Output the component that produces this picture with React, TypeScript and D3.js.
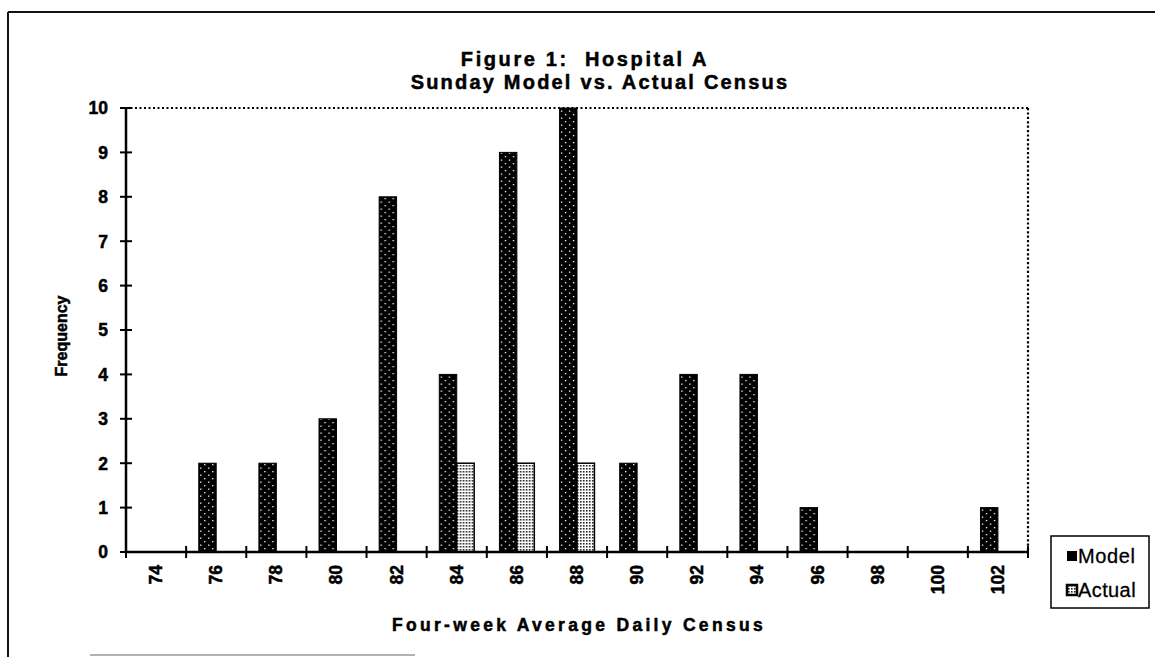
import React from 'react';
import * as d3 from 'd3';

const censusBins = ['74', '76', '78', '80', '82', '84', '86', '88', '90', '92', '94', '96', '98', '100', '102'];
const modelFreq = [0, 2, 2, 3, 8, 4, 9, 10, 2, 4, 4, 1, 0, 0, 1];
const actualFreq = [0, 0, 0, 0, 0, 2, 2, 2, 0, 0, 0, 0, 0, 0, 0];
const seriesNames = ['Model', 'Actual'];
const yTicks = [0, 1, 2, 3, 4, 5, 6, 7, 8, 9, 10];

const W = 1155;
const H = 657;
const plot = { left: 126, right: 1028, top: 108, bottom: 552 };
const font = '"Liberation Sans", Arial, Helvetica, sans-serif';
// scanned text looks heavy, so thicken the glyphs a bit
const heavy = { stroke: '#000', strokeWidth: 0.5 };

export default function App() {
  const x = d3.scaleBand<string>().domain(censusBins).range([plot.left, plot.right]).padding(0);
  const bw = x.bandwidth();
  const inner = d3.scaleBand<string>().domain(seriesNames).range([bw * 0.21, bw * 0.79]).padding(0);
  const y = d3.scaleLinear().domain([0, 10]).range([plot.bottom, plot.top]);

  const boundaries = censusBins.map(c => x(c) as number).concat([plot.right]);
  const rows = censusBins.map((c, i) => ({ bin: c, Model: modelFreq[i], Actual: actualFreq[i] }));

  return (
    <svg width={W} height={H} style={{ position: 'absolute', left: 0, top: 0, background: '#fff' }} fontFamily={font}>
      <defs>
        <pattern id="modelPat" width="8" height="7" patternUnits="userSpaceOnUse">
          <rect width="8" height="7" fill="#000" />
          <rect x="2" y="2" width="1.3" height="1.3" fill="#fff" />
          <rect x="6" y="5.5" width="1.3" height="1.3" fill="#fff" />
        </pattern>
        <pattern id="actualPat" width="3" height="3" patternUnits="userSpaceOnUse">
          <rect width="3" height="3" fill="#fff" />
          <rect x="0" y="0" width="1.6" height="1.6" fill="#222" />
        </pattern>
      </defs>

      {/* outer frame */}
      <line x1={8} y1={12} x2={W} y2={12} stroke="#111" strokeWidth={2} />
      <line x1={8} y1={12} x2={8} y2={H} stroke="#111" strokeWidth={2} />
      <line x1={90} y1={655} x2={415} y2={655} stroke="#999" strokeWidth={1.5} />

      {/* titles */}
      <text x={585} y={66} textAnchor="middle" fontSize={20} fontWeight="bold" letterSpacing={2.6} style={{ whiteSpace: 'pre' }} {...heavy}>{'Figure 1:  Hospital A'}</text>
      <text x={600} y={89} textAnchor="middle" fontSize={20} fontWeight="bold" letterSpacing={2.2} {...heavy}>Sunday Model vs. Actual Census</text>

      {/* plot area dotted border */}
      <line x1={plot.left} y1={plot.top} x2={plot.right} y2={plot.top} stroke="#000" strokeWidth={1.8} strokeDasharray="2,2.5" />
      <line x1={plot.right} y1={plot.top} x2={plot.right} y2={plot.bottom} stroke="#000" strokeWidth={2.2} strokeDasharray="2.2,2.2" />

      {/* bars */}
      {rows.map(r => (
        <g key={r.bin} transform={`translate(${x(r.bin)},0)`}>
          {r.Model > 0 && (
            <rect x={inner('Model')} y={y(r.Model)} width={inner.bandwidth()} height={y(0) - y(r.Model)} fill="url(#modelPat)" stroke="#000" strokeWidth={1} />
          )}
          {r.Actual > 0 && (
            <rect x={inner('Actual')} y={y(r.Actual)} width={inner.bandwidth()} height={y(0) - y(r.Actual)} fill="url(#actualPat)" stroke="#000" strokeWidth={1.5} />
          )}
        </g>
      ))}

      {/* y axis */}
      <line x1={plot.left} y1={plot.top} x2={plot.left} y2={plot.bottom} stroke="#000" strokeWidth={2.5} />
      {yTicks.map(t => (
        <g key={t}>
          <line x1={plot.left - 6} x2={plot.left + 6} y1={y(t)} y2={y(t)} stroke="#000" strokeWidth={2} />
          <text x={108} y={y(t)} dy="0.36em" textAnchor="end" fontSize={17.5} fontWeight="bold" {...heavy}>{t}</text>
        </g>
      ))}
      <text transform={`translate(67,${(plot.top + plot.bottom) / 2 + 6}) rotate(-90)`} textAnchor="middle" fontSize={16} fontWeight="bold" {...heavy}>Frequency</text>

      {/* x axis */}
      <line x1={plot.left} y1={plot.bottom} x2={plot.right} y2={plot.bottom} stroke="#000" strokeWidth={2.5} />
      {boundaries.map((b, i) => (
        <line key={i} x1={b} x2={b} y1={plot.bottom - 6} y2={plot.bottom + 6} stroke="#000" strokeWidth={2} />
      ))}
      {censusBins.map(c => (
        <text key={c} transform={`translate(${(x(c) as number) + bw / 2 + 6},565) rotate(-90)`} textAnchor="end" fontSize={17.5} fontWeight="bold" {...heavy}>{c}</text>
      ))}
      <text x={579} y={631} textAnchor="middle" fontSize={17.5} fontWeight="bold" letterSpacing={3.3} {...heavy}>Four-week Average Daily Census</text>

      {/* legend */}
      <rect x={1051} y={536} width={98} height={72} fill="#fff" stroke="#000" strokeWidth={1.5} />
      <rect x={1067} y={551} width={10} height={10} fill="#000" />
      <text x={1078} y={563} fontSize={20} letterSpacing={0.6} {...heavy} strokeWidth={0.3}>Model</text>
      <rect x={1067} y={585} width={10} height={10} fill="url(#actualPat)" stroke="#000" strokeWidth={2.5} />
      <text x={1078} y={597} fontSize={20} letterSpacing={0.4} {...heavy} strokeWidth={0.3}>Actual</text>
    </svg>
  );
}
